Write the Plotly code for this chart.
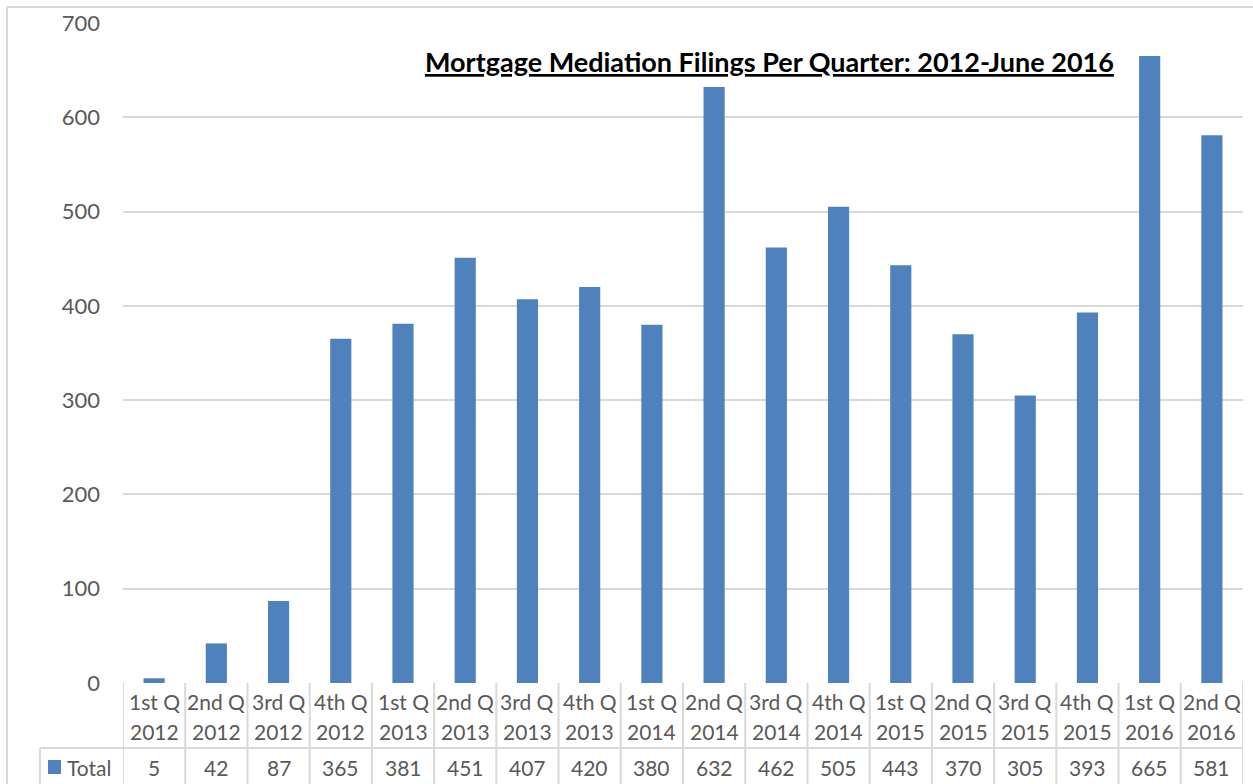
import plotly.graph_objects as go

quarters = ["1st Q", "2nd Q", "3rd Q", "4th Q", "1st Q", "2nd Q", "3rd Q", "4th Q",
            "1st Q", "2nd Q", "3rd Q", "4th Q", "1st Q", "2nd Q", "3rd Q", "4th Q",
            "1st Q", "2nd Q"]
years = ["2012"] * 4 + ["2013"] * 4 + ["2014"] * 4 + ["2015"] * 4 + ["2016"] * 2
totals = [5, 42, 87, 365, 381, 451, 407, 420, 380, 632, 462, 505, 443, 370, 305, 393, 665, 581]
series_name = "Total"
title_text = "Mortgage Mediation Filings Per Quarter: 2012-June 2016"
y_ticks = [0, 100, 200, 300, 400, 500, 600, 700]

W, H = 1253, 784
ML, MR, MT, MB = 123, 10, 23, 101
PW, PH = W - ML - MR, H - MT - MB

def py(px):  # pixel y -> paper y
    return (H - MB - px) / PH

def pxx(px):  # pixel x -> paper x
    return (px - ML) / PW

FONT = "Lato"
TXT = "#595959"
GRID = "#d9d9d9"
BLUE = "#4f81bd"

n = len(totals)
xs = list(range(n))

fig = go.Figure()
fig.add_trace(go.Bar(x=xs, y=totals, marker=dict(color=BLUE, line=dict(width=0)),
                     name=series_name, showlegend=False))

annotations = []
shapes = []
for i in xs:
    annotations.append(dict(x=i, y=py(701), xref="x", yref="paper", text=quarters[i],
                            showarrow=False, font=dict(family=FONT, size=21, color=TXT),
                            xanchor="center", yanchor="middle"))
    annotations.append(dict(x=i, y=py(731), xref="x", yref="paper", text=years[i],
                            showarrow=False, font=dict(family=FONT, size=21, color=TXT),
                            xanchor="center", yanchor="middle"))
    annotations.append(dict(x=i, y=py(767), xref="x", yref="paper", text=str(totals[i]),
                            showarrow=False, font=dict(family=FONT, size=21, color=TXT),
                            xanchor="center", yanchor="middle"))

# table grid lines
for k in range(n + 1):
    shapes.append(dict(type="line", xref="x", yref="paper", x0=k - 0.5, x1=k - 0.5,
                       y0=py(683), y1=py(784), line=dict(color=GRID, width=2)))
shapes.append(dict(type="line", xref="paper", yref="paper", x0=pxx(40), x1=1,
                   y0=py(748), y1=py(748), line=dict(color=GRID, width=2)))
shapes.append(dict(type="line", xref="paper", yref="paper", x0=pxx(40), x1=pxx(40),
                   y0=py(748), y1=py(784), line=dict(color=GRID, width=2)))
# legend key
shapes.append(dict(type="rect", xref="paper", yref="paper", x0=pxx(48), x1=pxx(61),
                   y0=py(760), y1=py(774), fillcolor=BLUE, line=dict(width=0)))
annotations.append(dict(x=pxx(65), y=py(767), xref="paper", yref="paper", text=series_name,
                        showarrow=False, font=dict(family=FONT, size=21, color=TXT),
                        xanchor="left", yanchor="middle"))
# outer chart border
shapes.append(dict(type="line", xref="paper", yref="paper", x0=pxx(7), x1=pxx(7),
                   y0=py(7), y1=py(790), line=dict(color=GRID, width=2)))
shapes.append(dict(type="line", xref="paper", yref="paper", x0=pxx(7), x1=pxx(1260),
                   y0=py(7), y1=py(7), line=dict(color=GRID, width=2)))

# title
annotations.append(dict(x=pxx(769), y=py(61), xref="paper", yref="paper",
                        text="<b><u>" + title_text + "</u></b>", showarrow=False,
                        font=dict(family=FONT, size=27, color="#000000"),
                        xanchor="center", yanchor="middle"))

fig.update_layout(
    width=W, height=H,
    margin=dict(l=ML, r=MR, t=MT, b=MB),
    paper_bgcolor="white", plot_bgcolor="white",
    bargap=0.66,
    xaxis=dict(range=[-0.5, n - 0.5], showticklabels=False, showgrid=False,
               zeroline=False, showline=False, ticks=""),
    yaxis=dict(range=[0, 700], tickvals=y_ticks, showgrid=True, gridcolor=GRID,
               gridwidth=1.5, zeroline=False, showline=False,
               tickfont=dict(family=FONT, size=22, color=TXT), ticklabelstandoff=22),
    annotations=annotations, shapes=shapes,
)

fig.write_html("out.html", config={"displayModeBar": False},
               post_script="document.body.style.margin='0';document.body.style.overflow='hidden';")
